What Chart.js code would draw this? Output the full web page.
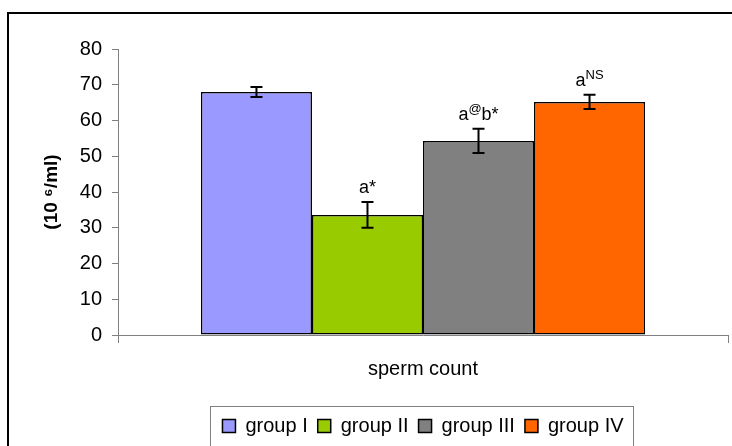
<!DOCTYPE html>
<html>
<head>
<meta charset="utf-8">
<script src="https://cdn.jsdelivr.net/npm/chart.js@4/dist/chart.umd.min.js"></script>
<style>
  html, body { margin: 0; padding: 0; background: #fff; }
  #wrap { width: 732px; height: 446px; position: relative; }
</style>
</head>
<body>
<div id="wrap"><canvas id="spermChart"></canvas></div>
<script>
// Data
const categories = ['sperm count'];
const groups = ['group I', 'group II', 'group III', 'group IV'];
const means = [68, 33.6, 54.3, 65.2];
const errors = [1.4, 3.6, 3.4, 2.0];
// text inside <> is drawn as superscript
const marks = ['', 'a*', 'a<@>b*', 'a<NS>'];
const colors = ['#9999ff', '#99cc00', '#808080', '#ff6600'];
const yTicks = [0, 10, 20, 30, 40, 50, 60, 70, 80];

const FONT = '"Liberation Sans", Arial, sans-serif';

// outer frame, legend frame, error bars and significance marks
const extras = {
    id: 'extras',
    afterLayout(chart) {
        // legend sits centred under the plot area, not the whole canvas
        const lg = chart.legend;
        const shift = (chart.chartArea.left + chart.chartArea.right) / 2 - (lg.left + lg.right) / 2;
        lg.left += shift;
        lg.right += shift;
    },
    afterDraw(chart) {
        const ctx = chart.ctx;
        const y = chart.scales.y;

        // error bars + marks
        chart.data.datasets.forEach(function (ds, i) {
            const bar = chart.getDatasetMeta(i).data[0];
            const v = ds.data[0];
            const top = y.getPixelForValue(v + errors[i]);
            const bot = y.getPixelForValue(v - errors[i]);
            ctx.save();
            ctx.strokeStyle = '#000';
            ctx.lineWidth = 2;
            ctx.beginPath();
            ctx.moveTo(bar.x, top); ctx.lineTo(bar.x, bot);
            ctx.moveTo(bar.x - 6, top); ctx.lineTo(bar.x + 6, top);
            ctx.moveTo(bar.x - 6, bot); ctx.lineTo(bar.x + 6, bot);
            ctx.stroke();

            // mark text
            const parts = [];
            marks[i].split(/(<[^>]*>)/).forEach(function (p) {
                if (!p) return;
                if (p[0] === '<') parts.push({ t: p.slice(1, -1), sup: true });
                else parts.push({ t: p, sup: false });
            });
            const base = '18px ' + FONT, small = '13px ' + FONT;
            let w = 0;
            parts.forEach(function (p) { ctx.font = p.sup ? small : base; w += ctx.measureText(p.t).width; });
            let x = bar.x - w / 2;
            const ty = top - 9;
            ctx.fillStyle = '#000';
            ctx.textBaseline = 'alphabetic';
            parts.forEach(function (p) {
                ctx.font = p.sup ? small : base;
                ctx.fillText(p.t, x, p.sup ? ty - 7 : ty);
                x += ctx.measureText(p.t).width;
            });
            ctx.restore();
        });

        // legend frame
        const boxes = chart.legend.legendHitBoxes;
        if (boxes && boxes.length) {
            const last = boxes[boxes.length - 1];
            const l = boxes[0].left - 12;
            const r = last.left + last.width + 10;
            const t = chart.legend.top;
            ctx.save();
            ctx.strokeStyle = '#808080';
            ctx.lineWidth = 1;
            ctx.strokeRect(Math.round(l) + 0.5, Math.round(t) + 0.5, Math.round(r - l), 60);
            ctx.restore();
        }

        // outer frame
        ctx.save();
        ctx.strokeStyle = '#000';
        ctx.lineWidth = 2;
        ctx.strokeRect(8, 13, 800, 600);
        ctx.restore();
    }
};

const ctx = document.getElementById('spermChart').getContext('2d');
window.myChart = new Chart(ctx, {
    type: 'bar',
    data: {
        labels: categories,
        datasets: groups.map(function (g, i) {
            return {
                label: g,
                data: [means[i]],
                backgroundColor: colors[i],
                borderColor: '#000',
                borderWidth: 1.5,
                borderSkipped: false,
                barPercentage: 1,
                categoryPercentage: 0.728
            };
        })
    },
    options: {
        responsive: true,
        maintainAspectRatio: false,
        animation: false,
        layout: { padding: { left: 28, right: 4, top: 49, bottom: 0 } },
        plugins: {
            tooltip: { enabled: false },
            legend: {
                position: 'bottom',
                labels: {
                    color: '#000',
                    font: { family: FONT, size: 20 },
                    boxWidth: 13,
                    boxHeight: 13,
                    padding: 10
                }
            }
        },
        scales: {
            x: {
                offset: true,
                afterFit: function (axis) { axis.height = 71; },
                grid: { offset: true, drawOnChartArea: false, color: '#808080', tickLength: 8 },
                border: { color: '#808080' },
                ticks: { color: '#000', font: { family: FONT, size: 20 }, padding: 14 }
            },
            y: {
                min: 0,
                max: 80,
                afterFit: function (axis) { axis.width = 90; },
                afterBuildTicks: function (axis) { axis.ticks = yTicks.map(function (v) { return { value: v }; }); },
                grid: { drawOnChartArea: false, color: '#808080', tickLength: 6 },
                border: { color: '#808080' },
                ticks: { color: '#000', font: { family: FONT, size: 20 }, padding: 10 },
                title: {
                    display: true,
                    text: '(10 \u2076/ml)',
                    color: '#000',
                    font: { family: FONT, size: 19, weight: 'bold' },
                    padding: { top: 12, bottom: 0 }
                }
            }
        }
    },
    plugins: [extras]
});
</script>
</body>
</html>
